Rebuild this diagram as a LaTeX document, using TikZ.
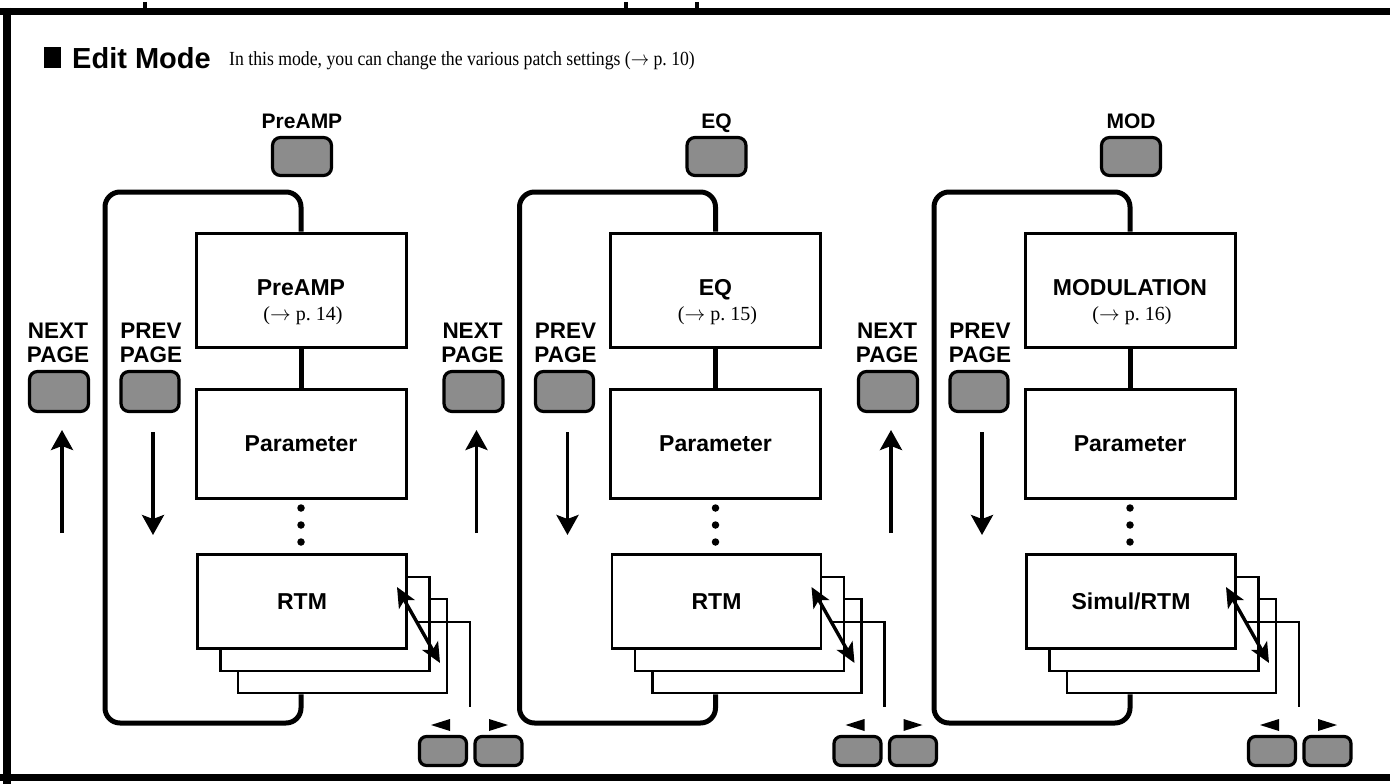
\documentclass[tikz,border=0pt]{standalone}
\usepackage{fontspec}
\setmainfont{Liberation Serif}
\newfontfamily\hsans{Liberation Sans}
\usetikzlibrary{arrows.meta}
\begin{document}
\begin{tikzpicture}[x=1pt,y=-1pt,
  btn/.style={draw, line width=3.2pt, rounded corners=8pt, fill=black!45, inner sep=0pt},
  boxa/.style={draw, line width=3pt, fill=white, inner sep=0pt, minimum width=210pt},
  cardb/.style={draw, line width=2.6pt, fill=white, inner sep=0pt, minimum width=209pt, minimum height=94pt},
  hb/.style={font=\hsans\bfseries\fontsize{23}{23}\selectfont, inner sep=0pt},
  hl/.style={font=\hsans\bfseries\fontsize{21}{21}\selectfont, inner sep=0pt},
  hn/.style={font=\hsans\bfseries\fontsize{22.5}{22.5}\selectfont, inner sep=0pt},
  sr/.style={font=\fontsize{20}{20}\selectfont, inner sep=0pt},
  frameline/.style={line width=5pt, rounded corners=15pt},
  conn/.style={line width=5pt},
  thinl/.style={line width=2.6pt},
  bigarrow/.style={line width=3.5pt, -{Stealth[length=20pt,width=22pt,inset=4pt]}},
  dblarrow/.style={line width=3.4pt, {Stealth[length=20pt,width=18pt,inset=5pt]}-{Stealth[length=20pt,width=18pt,inset=5pt]}},
  dotn/.style={circle, fill, inner sep=0pt, minimum size=7.5pt}
]
\useasboundingbox (0,0) rectangle (1400,784);
% outer frame
\draw[line width=7pt] (0,11.5) -- (1390,11.5);
\draw[line width=7pt] (0,777.5) -- (1390,777.5);
\draw[line width=8pt] (7,8) -- (7,784);
\draw[line width=3.5pt] (145,2) -- (145,9);
\draw[line width=3.5pt] (626,2) -- (626,9);
\draw[line width=3.5pt] (697,2) -- (697,9);
% header
\fill (44,47) rectangle (61,68);
\node[anchor=base west, font=\hsans\bfseries\fontsize{29}{29}\selectfont, inner sep=0pt] (title) at (72,68) {Edit Mode};
\node[anchor=base west, font=\fontsize{20}{22}\selectfont, inner sep=0pt] (intro) at (229,66) {\scalebox{0.885}[1]{In this mode, you can change the various patch settings (\(\rightarrow\) p.~10)}};
% columns
\foreach \i/\lab/\ttl/\pg/\rtm in {0/PreAMP/PreAMP/14/RTM, 1/EQ/EQ/15/RTM, 2/MOD/MODULATION/16/Simul\slash RTM}{
\begin{scope}[xshift={\i*414.5pt}]
  % selector button
  \node[hl, anchor=base] (lab\i) at (302,128) {\lab};
  \node[btn, minimum width=59pt, minimum height=38pt] (sel\i) at (302,156.5) {};
  % boxes
  \node[boxa, minimum height=114pt] (box\i) at (301,290) {};
  \node[hb, anchor=base] (tt\i) at (301,295) {\ttl};
  \node[sr, anchor=base] (st\i) at (303,320) {(\(\rightarrow\) p.~\pg)};
  \node[boxa, minimum height=109pt, hb] (par\i) at (301,443.5) {Parameter};
  \draw[conn] (box\i) -- (par\i);
  \node[dotn] (da\i) at (301,508) {};
  \node[dotn] (db\i) at (301,525) {};
  \node[dotn] (dc\i) at (301,542) {};
  % stacked cards
  \node[cardb] (cc\i) at (342.5,646) {};
  \node[cardb] (cb\i) at (325,624) {};
  \node[cardb, hb] (ca\i) at (302,601.5) {\rtm};
  % loop frame
  \coordinate (ftl\i) at (105,192);
  \coordinate (fbl\i) at (105,723);
  \draw[frameline] (box\i.north) -- (box\i.north |- ftl\i) -- (ftl\i) -- (fbl\i) -- (box\i.north |- fbl\i) -- (box\i.north |- cc\i.south);
  % link to page buttons
  \coordinate (lk\i) at (418,622);
  \coordinate (lke\i) at (470,707);
  \draw[thinl] (lk\i) -| (lke\i);
  \coordinate (aa\i) at (397,587);
  \coordinate (ab\i) at (440,663);
  \draw[dblarrow] (aa\i) -- (ab\i);
  % page buttons
  \node[btn, rounded corners=7pt, minimum width=47pt, minimum height=29pt] (pl\i) at (443,751) {};
  \node[btn, rounded corners=7pt, minimum width=47pt, minimum height=29pt] (pr\i) at (498.5,751) {};
  \fill (431,725) -- (450,719) -- (450,731) -- cycle;
  \fill (508,725) -- (489,719) -- (489,731) -- cycle;
  % next / prev page
  \node[hn, anchor=base] (nx\i) at (58,338) {NEXT};
  \node[hn, anchor=base] (np\i) at (58,362) {PAGE};
  \node[btn, minimum width=59pt, minimum height=40pt] (nb\i) at (59,391.5) {};
  \coordinate (ua\i) at (62,533);
  \coordinate (ub\i) at (62,430);
  \draw[bigarrow] (ua\i) -- (ub\i);
  \node[hn, anchor=base] (px\i) at (151,338) {PREV};
  \node[hn, anchor=base] (pp\i) at (151,362) {PAGE};
  \node[btn, minimum width=58pt, minimum height=40pt] (pb\i) at (150,391.5) {};
  \coordinate (va\i) at (153,432);
  \coordinate (vb\i) at (153,535);
  \draw[bigarrow] (va\i) -- (vb\i);
\end{scope}
}
\end{tikzpicture}
\end{document}
